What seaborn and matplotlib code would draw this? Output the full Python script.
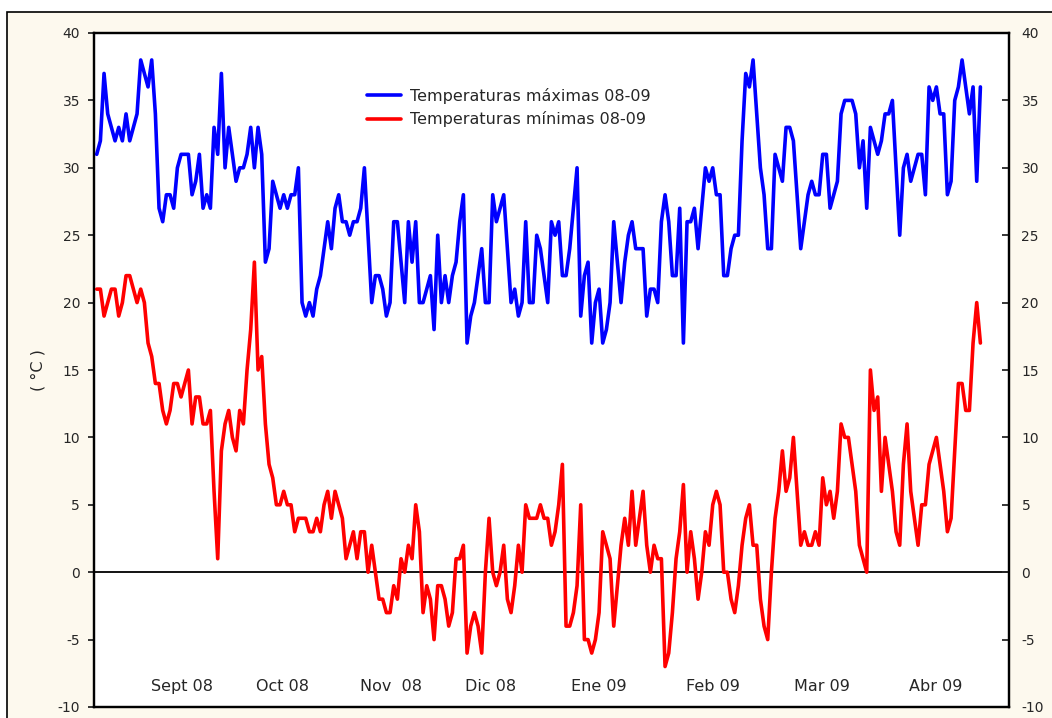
import numpy as np
import pandas as pd
import matplotlib
matplotlib.use("Agg")
import matplotlib.pyplot as plt
from matplotlib.patches import Rectangle
import seaborn as sns

# Daily temperatures, late Aug 2008 -> end Apr 2009
tmax_aug_oct = [31, 32, 37, 34, 33, 32, 33, 32, 34, 32,
                33, 34, 38, 37, 36, 38, 34, 27, 26, 28,
                28, 27, 30, 31, 31, 31, 28, 29, 31, 27,
                28, 27, 33, 31, 37, 30, 33, 31, 29, 30,
                30, 31, 33, 30, 33, 31, 23, 24, 29, 28,
                27, 28, 27, 28, 28, 30, 20, 19, 20, 19,
                21, 22, 24, 26, 24, 27, 28, 26, 26, 25,
                26, 26]
tmax_oct_jan = [27, 30, 25, 20, 22, 22, 21, 19, 20, 26,
                26, 23, 20, 26, 23, 26, 20, 20, 21, 22,
                18, 25, 20, 22, 20, 22, 23, 26, 28, 17,
                19, 20, 22, 24, 20, 20, 28, 26, 27, 28,
                24, 20, 21, 19, 20, 26, 20, 20, 25, 24,
                22, 20, 26, 25, 26, 22, 22, 24, 27, 30,
                19, 22, 23, 17, 20, 21, 17, 18, 20, 26,
                23, 20, 23, 25, 26, 24, 24, 24, 19, 21,
                21, 20, 26, 28, 26, 22, 22, 27, 17, 26,
                26, 27, 24]
tmax_feb_apr = [27, 30, 29, 30, 28, 28, 22, 22, 24, 25,
                25, 32, 37, 36, 38, 34, 30, 28, 24, 24,
                31, 30, 29, 33, 33, 32, 28, 24, 26, 28,
                29, 28, 28, 31, 31, 27, 28, 29, 34, 35,
                35, 35, 34, 30, 32, 27, 33, 32, 31, 32,
                34, 34, 35, 30, 25, 30, 31, 29, 30, 31,
                31, 28, 36, 35, 36, 34, 34, 28, 29, 35,
                36, 38, 36, 34, 36, 29, 36]

tmin_aug_oct = [21, 21, 19, 20, 21, 21, 19, 20, 22, 22,
                21, 20, 21, 20, 17, 16, 14, 14, 12, 11,
                12, 14, 14, 13, 14, 15, 11, 13, 13, 11,
                11, 12, 6, 1, 9, 11, 12, 10, 9, 12,
                11, 15, 18, 23, 15, 16, 11, 8, 7, 5,
                5, 6, 5, 5, 3, 4, 4, 4, 3, 3,
                4, 3, 5, 6, 4, 6, 5, 4, 1, 2,
                3, 1]
tmin_oct_jan = [3, 3, 0, 2, 0, -2, -2, -3, -3, -1,
                -2, 1, 0, 2, 1, 5, 3, -3, -1, -2,
                -5, -1, -1, -2, -4, -3, 1, 1, 2, -6,
                -4, -3, -4, -6, 0, 4, 0, -1, 0, 2,
                -2, -3, -1, 2, 0, 5, 4, 4, 4, 5,
                4, 4, 2, 3, 5, 8, -4, -4, -3, -1,
                5, -5, -5, -6, -5, -3, 3, 2, 1, -4,
                -1, 2, 4, 2, 6, 2, 4, 6, 2, 0,
                2, 1, 1, -7, -6, -3, 1, 3, 6.5, 0,
                3, 1, -2]
tmin_feb_apr = [0, 3, 2, 5, 6, 5, 0, 0, -2, -3,
                -1, 2, 4, 5, 2, 2, -2, -4, -5, 0,
                4, 6, 9, 6, 7, 10, 6, 2, 3, 2,
                2, 3, 2, 7, 5, 6, 4, 6, 11, 10,
                10, 8, 6, 2, 1, 0, 15, 12, 13, 6,
                10, 8, 6, 3, 2, 8, 11, 6, 4, 2,
                5, 5, 8, 9, 10, 8, 6, 3, 4, 9,
                14, 14, 12, 12, 17, 20, 17]

month_labels = ['Sept 08', 'Oct 08', 'Nov  08', 'Dic 08',
                'Ene 09', 'Feb 09', 'Mar 09', 'Abr 09']
month_pos = [23.3, 50.8, 80.3, 107.5, 137.0, 168.0, 197.8, 228.9]

tmax = tmax_aug_oct + tmax_oct_jan + tmax_feb_apr
tmin = tmin_aug_oct + tmin_oct_jan + tmin_feb_apr
df = pd.DataFrame({'dia': np.arange(len(tmax)), 'tmax': tmax, 'tmin': tmin})

sns.set_style('white')
plt.rcParams['font.family'] = ['DejaVu Sans']
plt.rcParams['axes.unicode_minus'] = False

W, H = 1052, 718
fig = plt.figure(figsize=(W / 100, H / 100), dpi=100)
fig.patch.set_facecolor('white')
fig.patches.append(Rectangle((7 / W, -0.1), 1.2, (H - 12) / H + 0.1,
                             transform=fig.transFigure, facecolor='#FDF9EE',
                             edgecolor='black', linewidth=1.2, zorder=-10))

ax = fig.add_axes([94 / W, (H - 707) / H, (1009 - 94) / W, (707 - 33) / H])
ax.set_facecolor('white')

ax.axhline(0, color='black', linewidth=1.3, zorder=1)
sns.lineplot(data=df, x='dia', y='tmax', color='#0000FF', linewidth=2.6,
             label='Temperaturas máximas 08-09', ax=ax, zorder=3)
sns.lineplot(data=df, x='dia', y='tmin', color='#FF0000', linewidth=2.6,
             label='Temperaturas mínimas 08-09', ax=ax, zorder=3)

ax.set_xlim(-0.74, 248.8)
ax.set_ylim(-10, 40)
ax.set_xticks([])
ax.set_yticks(np.arange(-10, 41, 5))
ax.set(xlabel='', ylabel='')
ax.tick_params(axis='y', direction='out', length=4, width=1.3,
               labelsize=10, pad=6, left=True)
for s in ax.spines.values():
    s.set_linewidth(1.6)
    s.set_color('black')

ax2 = ax.twinx()
ax2.set_ylim(-10, 40)
ax2.set_yticks(np.arange(-10, 41, 5))
ax2.tick_params(axis='y', direction='in', length=5, width=1.3,
                labelsize=10, pad=9, right=True)
for s in ax2.spines.values():
    s.set_linewidth(1.6)
    s.set_color('black')

for lab, pos in zip(month_labels, month_pos):
    ax.text(pos, 0.03, lab, transform=ax.get_xaxis_transform(),
            ha='center', va='center', fontsize=11.5)

ax.legend(loc='upper left', bbox_to_anchor=(0.283, 0.94), frameon=False,
          fontsize=11.5, handlelength=2.1, handletextpad=0.6,
          labelspacing=0.48)

fig.text(38 / W, 1 - 370 / H, '( °C )', rotation=90, ha='center',
         va='center', fontsize=11.5)

fig.savefig('out.png', dpi=100, facecolor=fig.get_facecolor())
